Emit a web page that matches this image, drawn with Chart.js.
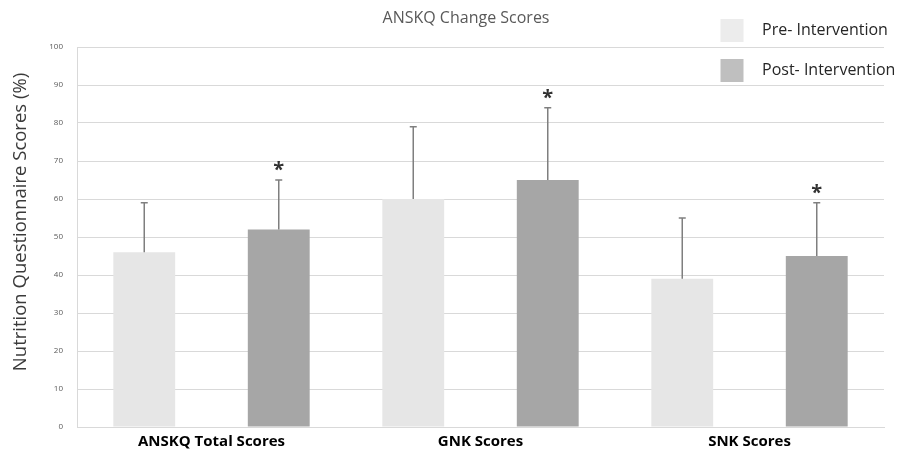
<!DOCTYPE html>
<html>
<head>
<meta charset="utf-8">
<script src="https://cdn.jsdelivr.net/npm/chart.js@4/dist/chart.umd.min.js"></script>
<style>
  html, body { margin: 0; padding: 0; background: #ffffff; }
  #wrap { width: 897px; height: 449px; position: relative; }
</style>
</head>
<body>
<div id="wrap"><canvas id="c" width="897" height="449"></canvas></div>
<script>
const categories = ["ANSKQ Total Scores", "GNK Scores", "SNK Scores"];
const seriesNames = ["Pre- Intervention", "Post- Intervention"];
const preValues = [46, 60, 39];
const postValues = [52, 65, 45];
const preSD = [13, 19, 16];
const postSD = [13, 19, 14];
const postSignificant = [true, true, true];
const yTicks = [0, 10, 20, 30, 40, 50, 60, 70, 80, 90, 100];
const chartTitle = "ANSKQ Change Scores";
const yTitle = "Nutrition Questionnaire Scores (%)";

const errorBarPlugin = {
  id: 'errorBars',
  afterDatasetsDraw(chart) {
    const ctx = chart.ctx;
    const y = chart.scales.y;
    const sds = [preSD, postSD];
    chart.data.datasets.forEach((ds, di) => {
      const meta = chart.getDatasetMeta(di);
      meta.data.forEach((bar, i) => {
        const top = y.getPixelForValue(ds.data[i] + sds[di][i]);
        const base = y.getPixelForValue(ds.data[i]);
        ctx.save();
        ctx.strokeStyle = '#7f7f7f';
        ctx.lineWidth = 1.5;
        ctx.beginPath();
        ctx.moveTo(bar.x, base);
        ctx.lineTo(bar.x, top);
        ctx.moveTo(bar.x - 3.5, top);
        ctx.lineTo(bar.x + 3.5, top);
        ctx.stroke();
        if (di === 1 && postSignificant[i]) {
          ctx.fillStyle = '#333333';
          ctx.font = 'bold 20px "Open Sans"';
          ctx.textAlign = 'center';
          ctx.textBaseline = 'alphabetic';
          ctx.fillText('*', bar.x, top - 4);
        }
        ctx.restore();
      });
    });
  }
};

const decorPlugin = {
  id: 'decor',
  afterDraw(chart) {
    const ctx = chart.ctx;
    ctx.save();
    // title
    ctx.fillStyle = '#595959';
    ctx.font = '16px "Open Sans"';
    ctx.textAlign = 'center';
    ctx.textBaseline = 'middle';
    ctx.fillText(chartTitle, 466, 18);
    // y title
    ctx.save();
    ctx.translate(21, 222);
    ctx.rotate(-Math.PI / 2);
    ctx.fillStyle = '#3a3a3a';
    ctx.font = '18.5px "Open Sans"';
    ctx.fillText(yTitle, 0, 0);
    ctx.restore();
    // legend
    const colors = ['#ececec', '#bfbfbf'];
    const rows = [30.5, 70.5];
    seriesNames.forEach((n, i) => {
      ctx.fillStyle = colors[i];
      ctx.fillRect(720.5, rows[i] - 11.5, 23, 23);
      ctx.fillStyle = '#262626';
      ctx.font = '16px "Open Sans"';
      ctx.textAlign = 'left';
      ctx.textBaseline = 'middle';
      ctx.fillText(n, 762, rows[i]);
    });
    ctx.restore();
  }
};

new Chart(document.getElementById('c'), {
  type: 'bar',
  data: {
    labels: categories,
    datasets: [
      { label: seriesNames[0], data: preValues, backgroundColor: '#e6e6e6', borderWidth: 0 },
      { label: seriesNames[1], data: postValues, backgroundColor: '#a6a6a6', borderWidth: 0 }
    ]
  },
  options: {
    responsive: false,
    animation: false,
    devicePixelRatio: 1,
    layout: { padding: { top: 47, right: 13, left: 0, bottom: 0 } },
    categoryPercentage: 1.0,
    barPercentage: 0.46,
    plugins: { legend: { display: false }, title: { display: false }, tooltip: { enabled: false } },
    scales: {
      x: {
        afterFit(scale) { scale.height = 22; },
        grid: { display: false, drawTicks: false },
        border: { display: true, color: '#d9d9d9', width: 1 },
        ticks: { color: '#000000', font: { family: 'Open Sans', size: 15, weight: 'bold' }, padding: 6, maxRotation: 0 }
      },
      y: {
        min: 0, max: 100,
        afterFit(scale) { scale.width = 77; },
        afterBuildTicks(scale) { scale.ticks = yTicks.map(v => ({ value: v })); },
        grid: { color: '#d9d9d9', lineWidth: 1, drawTicks: false },
        border: { display: true, color: '#d9d9d9', width: 1 },
        ticks: { color: '#595959', font: { family: 'Open Sans', size: 8 }, padding: 14 }
      }
    }
  },
  plugins: [errorBarPlugin, decorPlugin]
});
</script>
</body>
</html>
